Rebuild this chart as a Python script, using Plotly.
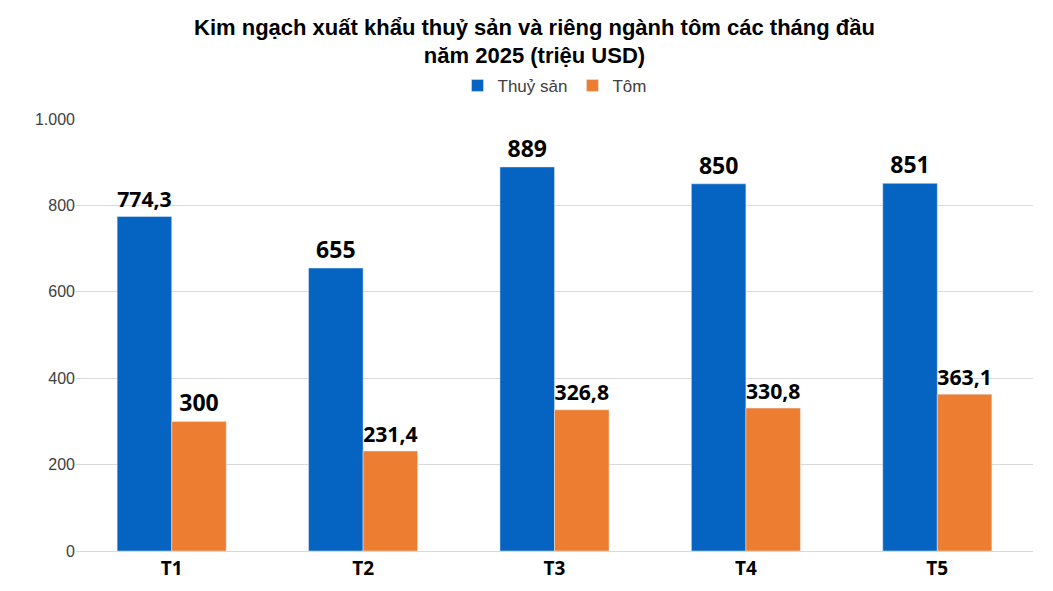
import plotly.graph_objects as go

months = ["T1", "T2", "T3", "T4", "T5"]
thuy_san = [774.3, 655, 889, 850, 851]
tom = [300, 231.4, 326.8, 330.8, 363.1]
thuy_san_labels = ["774,3", "655", "889", "850", "851"]
tom_labels = ["300", "231,4", "326,8", "330,8", "363,1"]

fig = go.Figure()
fig.add_trace(go.Bar(x=months, y=thuy_san, name="Thuỷ sản", marker_color="#0563C1",
                     text=["<b>" + t + "</b>" for t in thuy_san_labels], textposition="outside",
                     cliponaxis=False,
                     textfont=dict(size=23, color="black", family="Open Sans")))
fig.add_trace(go.Bar(x=months, y=tom, name="Tôm", marker_color="#ED7D31",
                     text=["<b>" + t + "</b>" for t in tom_labels], textposition="outside",
                     cliponaxis=False,
                     textfont=dict(size=23, color="black", family="Open Sans")))

fig.update_layout(
    width=1053, height=591,
    margin=dict(l=68, r=28, t=111, b=48),
    paper_bgcolor="white", plot_bgcolor="white",
    separators=",.",
    font=dict(family="Liberation Sans", color="black"),
    title=dict(text="<b>Kim ngạch xuất khẩu thuỷ sản và riêng ngành tôm các tháng đầu<br>năm 2025 (triệu USD)</b>",
               x=0.5, xanchor="center", y=0.955, yanchor="top", font=dict(size=22)),
    barmode="group", bargap=0.43, bargroupgap=0,
    legend=dict(orientation="h", x=0.5, xanchor="center", y=1.035, yanchor="bottom",
                font=dict(size=17, color="#404040")),
    xaxis=dict(tickfont=dict(size=19, family="Open Sans"), showline=True,
               linecolor="#d9d9d9", ticks=""),
    yaxis=dict(range=[0, 1000], dtick=200, tickformat=",d", gridcolor="#d9d9d9",
               tickfont=dict(size=16, color="#404040"), zeroline=False),
)
fig.update_xaxes(tickprefix="<b>", ticksuffix="</b>")

fig.write_html("out.html")
